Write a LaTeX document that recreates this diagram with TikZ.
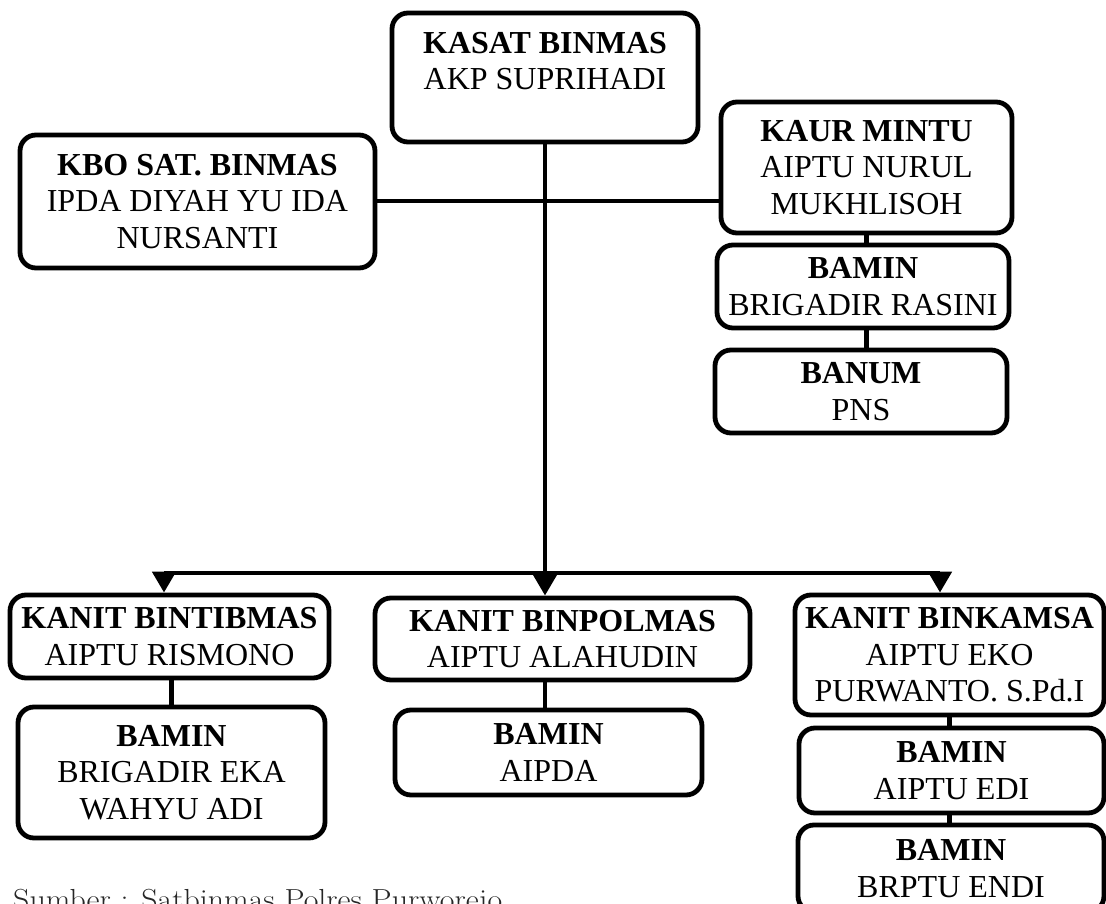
\documentclass[tikz,border=0pt]{standalone}
\usepackage{fontspec}
\usepackage{graphicx}
\newfontfamily\tnr{Liberation Serif}
\usetikzlibrary{arrows.meta}
\tikzset{
  box/.style={draw, line width=4.8pt, rounded corners=16pt, inner sep=0pt,
    align=center, font=\tnr\fontsize{32}{36.5}\selectfont},
  conn/.style={line width=4.8pt},
  hconn/.style={line width=4pt},
  arr/.style={line width=4.8pt, -{Triangle[width=23pt,length=21pt]}},
  srcnote/.style={anchor=base west, inner sep=0pt, font=\fontsize{29}{34}\selectfont, text=black!85},
}
\begin{document}
\begin{tikzpicture}[x=1pt,y=-1pt]
\useasboundingbox (0,0) rectangle (1106,904);
% top level
\node[box, minimum width=306pt, minimum height=129pt] (kasat) at (545,77.5)
  {\textbf{KASAT BINMAS}\\AKP SUPRIHADI\\[-3pt]\mbox{}};
\node[box, minimum width=355pt, minimum height=133pt] (kbo) at (197.5,201.5)
  {\textbf{KBO SAT. BINMAS}\\IPDA DIYAH YU IDA\\NURSANTI};
\node[box, minimum width=291pt, minimum height=131pt] (kaur) at (866.5,167.5)
  {\textbf{KAUR MINTU}\\AIPTU NURUL\\MUKHLISOH};
\node[box, minimum width=292pt, minimum height=83pt] (rasini) at (863,286.5)
  {\textbf{BAMIN}\\BRIGADIR RASINI};
\node[box, minimum width=292pt, minimum height=83pt] (banum) at (861,391.5)
  {\textbf{BANUM}\\PNS};
% bottom level
\node[box, minimum width=319pt, minimum height=83pt] (tib) at (169.5,636.5)
  {\textbf{KANIT BINTIBMAS}\\AIPTU RISMONO};
\node[box, minimum width=307pt, minimum height=131pt] (eka) at (171.5,772.5)
  {\textbf{BAMIN}\\BRIGADIR EKA\\WAHYU ADI};
\node[box, minimum width=375pt, minimum height=82pt] (pol) at (562.5,639)
  {\textbf{KANIT BINPOLMAS}\\AIPTU ALAHUDIN};
\node[box, minimum width=307pt, minimum height=85pt] (aipda) at (548.5,752.5)
  {\textbf{BAMIN}\\AIPDA};
\node[box, minimum width=309pt, minimum height=120pt] (kam) at (949.5,655)
  {\textbf{KANIT BINKAMSA}\\AIPTU EKO\\PURWANTO. S.Pd.I};
\node[box, minimum width=305pt, minimum height=85pt] (edi) at (951.5,770.5)
  {\textbf{BAMIN}\\AIPTU EDI};
\node[box, minimum width=306pt, minimum height=87pt] (endi) at (951,868.5)
  {\textbf{BAMIN}\\BRPTU ENDI};
% connectors
\draw[hconn] (kbo.east) -- (kbo.east -| kaur.west);
\draw[arr] (kasat.south) -- (kasat.south |- pol.north);
\coordinate (busL) at (164,573);
\coordinate (busR) at (940,573);
\draw[conn] (busL) -- (busR);
\draw[arr] (busL) -- (busL |- tib.north);
\draw[arr] (busR) -- (busR |- kam.north);
\draw[conn] (kaur.south) -- (kaur.south |- rasini.north);
\draw[conn] (kaur.south |- rasini.south) -- (kaur.south |- banum.north);
\draw[conn] (tib.south -| eka.north) -- (eka.north);
\draw[conn] (kasat.south |- pol.south) -- (kasat.south |- aipda.north);
\draw[conn] (kam.south) -- (kam.south |- edi.north);
\draw[conn] (kam.south |- edi.south) -- (kam.south |- endi.north);
% source note
\node[srcnote] (src) at (13,909) {\scalebox{1.1}[1]{Sumber : Satbinmas Polres Purworejo}};
\end{tikzpicture}
\end{document}
